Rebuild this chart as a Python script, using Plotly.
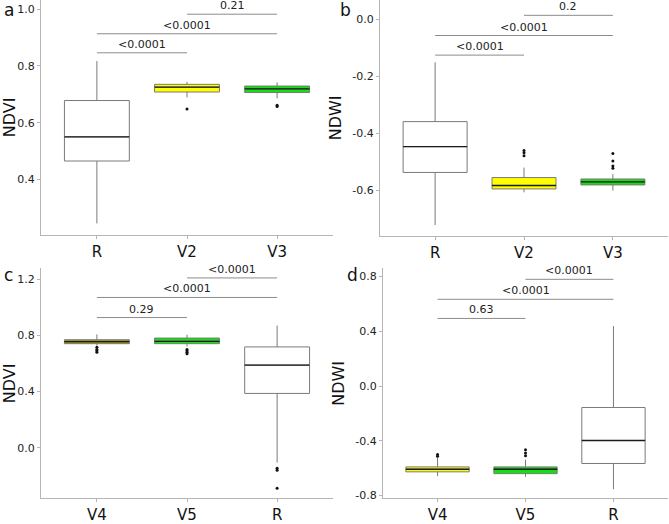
import plotly.graph_objects as go

W, H = 669, 524
FONT = "DejaVu Sans"

# ---------------- data ----------------
a_cats = ["R", "V2", "V3"]
a_q1 = [0.465, 0.708, 0.706]
a_med = [0.550, 0.725, 0.719]
a_q3 = [0.678, 0.735, 0.729]
a_lo = [0.245, 0.689, 0.686]
a_hi = [0.817, 0.744, 0.742]
a_out = [[], [0.648], [0.661, 0.657]]
a_br = [(0, 1, 0.846, "<0.0001"), (0, 2, 0.913, "<0.0001"), (1, 2, 0.982, "0.21")]
a_col = ["#ffffff", "#ffff00", "#11e011"]

b_cats = ["R", "V2", "V3"]
b_q1 = [-0.538, -0.596, -0.582]
b_med = [-0.447, -0.584, -0.571]
b_q3 = [-0.359, -0.556, -0.561]
b_lo = [-0.723, -0.608, -0.602]
b_hi = [-0.150, -0.521, -0.544]
b_out = [[], [-0.461, -0.469, -0.479], [-0.471, -0.498, -0.515, -0.523]]
b_br = [(0, 1, -0.125, "<0.0001"), (0, 2, -0.056, "<0.0001"), (1, 2, 0.015, "0.2")]
b_col = ["#ffffff", "#ffff00", "#11e011"]

c_cats = ["V4", "V5", "R"]
c_q1 = [0.741, 0.741, 0.387]
c_med = [0.755, 0.758, 0.589]
c_q3 = [0.769, 0.781, 0.718]
c_lo = [0.728, 0.722, -0.105]
c_hi = [0.807, 0.805, 0.870]
c_out = [[0.715, 0.700, 0.690, 0.680], [0.700, 0.690, 0.680, 0.670], [-0.145, -0.160, -0.287]]
c_br = [(0, 1, 0.927, "0.29"), (0, 2, 1.070, "<0.0001"), (1, 2, 1.209, "<0.0001")]
c_col = ["#9c9c00", "#11e011", "#ffffff"]

d_cats = ["V4", "V5", "R"]
d_q1 = [-0.627, -0.640, -0.566]
d_med = [-0.608, -0.608, -0.398]
d_q3 = [-0.591, -0.591, -0.157]
d_lo = [-0.658, -0.663, -0.754]
d_hi = [-0.526, -0.538, 0.438]
d_out = [[-0.501, -0.513], [-0.465, -0.490, -0.510], []]
d_br = [(0, 1, 0.494, "0.63"), (0, 2, 0.634, "<0.0001"), (1, 2, 0.780, "<0.0001")]
d_col = ["#ffff00", "#11e011", "#ffffff"]

panels = [
    dict(tag="a", title="NDVI", cats=a_cats, q1=a_q1, med=a_med, q3=a_q3, lo=a_lo, hi=a_hi, out=a_out, br=a_br, col=a_col,
         px=(41, 333), py=(0, 238), yr=(0.205, 1.032), tv=[0.4, 0.6, 0.8, 1.0], tt=["0.4", "0.6", "0.8", "1.0"], lab=(9, 10)),
    dict(tag="b", title="NDWI", cats=b_cats, q1=b_q1, med=b_med, q3=b_q3, lo=b_lo, hi=b_hi, out=b_out, br=b_br, col=b_col,
         px=(380, 668), py=(0, 239), yr=(-0.761, 0.069), tv=[-0.6, -0.4, -0.2, 0.0], tt=["-0.6", "-0.4", "-0.2", "0.0"], lab=(345, 10)),
    dict(tag="c", title="NDVI", cats=c_cats, q1=c_q1, med=c_med, q3=c_q3, lo=c_lo, hi=c_hi, out=c_out, br=c_br, col=c_col,
         px=(41, 333), py=(272, 505), yr=(-0.359, 1.277), tv=[0.0, 0.4, 0.8, 1.2], tt=["0.0", "0.4", "0.8", "1.2"], lab=(8, 279)),
    dict(tag="d", title="NDWI", cats=d_cats, q1=d_q1, med=d_med, q3=d_q3, lo=d_lo, hi=d_hi, out=d_out, br=d_br, col=d_col,
         px=(383, 668), py=(272, 505), yr=(-0.82, 0.86), tv=[-0.8, -0.4, 0.0, 0.4, 0.8], tt=["-0.8", "-0.4", "0.0", "0.4", "0.8"], lab=(352, 279)),
]

BOXW = 0.72
fig = go.Figure()
annotations = []
layout = {}

for i, p in enumerate(panels):
    n = "" if i == 0 else str(i + 1)
    xa, ya = "x" + n, "y" + n
    pos = list(range(len(p["cats"])))
    for k in pos:
        fig.add_trace(go.Box(
            x=[pos[k]], q1=[p["q1"][k]], median=[p["med"][k]], q3=[p["q3"][k]],
            lowerfence=[p["lo"][k]], upperfence=[p["hi"][k]],
            width=BOXW, whiskerwidth=0, fillcolor=p["col"][k], line=dict(color="#7a7a7a", width=1),
            boxpoints=False, showlegend=False, xaxis=xa, yaxis=ya, hoverinfo="skip"))
        # darker median line
        fig.add_trace(go.Scatter(
            x=[pos[k] - BOXW / 2, pos[k] + BOXW / 2], y=[p["med"][k], p["med"][k]],
            mode="lines", line=dict(color="#1a1a1a", width=1.3),
            showlegend=False, xaxis=xa, yaxis=ya, hoverinfo="skip"))
        if p["out"][k]:
            fig.add_trace(go.Scatter(
                x=[pos[k]] * len(p["out"][k]), y=p["out"][k], mode="markers",
                marker=dict(color="#111111", size=3), showlegend=False,
                xaxis=xa, yaxis=ya, hoverinfo="skip"))
    for (i0, i1, yv, txt) in p["br"]:
        fig.add_trace(go.Scatter(
            x=[pos[i0], pos[i1]], y=[yv, yv], mode="lines",
            line=dict(color="#8c8c8c", width=1), showlegend=False,
            xaxis=xa, yaxis=ya, hoverinfo="skip"))
        annotations.append(dict(
            x=(pos[i0] + pos[i1]) / 2, y=yv, xref=xa, yref=ya, text=txt,
            showarrow=False, yanchor="bottom", yshift=0,
            font=dict(family=FONT, size=11, color="#222222")))
    annotations.append(dict(
        x=p["lab"][0] / W, y=1 - p["lab"][1] / H, xref="paper", yref="paper",
        text=p["tag"], showarrow=False, xanchor="center", yanchor="middle",
        font=dict(family=FONT, size=17, color="#111111")))

    x0, x1 = p["px"]
    y0, y1 = p["py"]
    nx = len(p["cats"])
    layout["xaxis" + n] = dict(
        domain=[x0 / W, x1 / W], anchor=ya, range=[-0.62, nx - 1 + 0.62],
        tickvals=pos, ticktext=p["cats"], showgrid=False, zeroline=False,
        showline=True, linecolor="#b5b5b5", linewidth=1.2,
        ticks="outside", ticklen=3, tickcolor="#b5b5b5",
        tickfont=dict(family=FONT, size=15, color="#111111"))
    layout["yaxis" + n] = dict(
        domain=[1 - y1 / H, 1 - y0 / H], anchor=xa, range=list(p["yr"]),
        tickvals=p["tv"], ticktext=p["tt"], showgrid=False, zeroline=False,
        showline=True, linecolor="#b5b5b5", linewidth=1.2,
        ticks="outside", ticklen=3, tickcolor="#b5b5b5",
        tickfont=dict(family=FONT, size=11, color="#222222"),
        title=dict(text=p["title"], standoff=6, font=dict(family=FONT, size=16, color="#111111")))

fig.update_layout(
    width=W, height=H, margin=dict(l=0, r=0, t=0, b=0),
    paper_bgcolor="white", plot_bgcolor="white",
    annotations=annotations, **layout)

fig.write_html("out.html")
